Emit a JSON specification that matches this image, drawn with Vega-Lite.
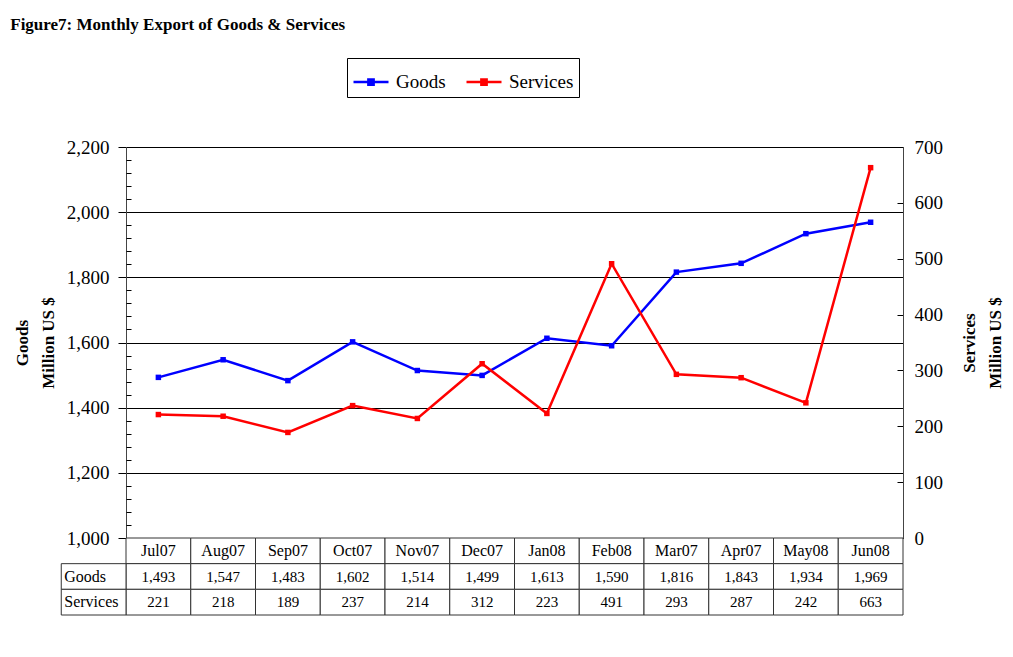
{
  "$schema": "https://vega.github.io/schema/vega-lite/v6.json",
  "background": "white",
  "padding": {"left": 10, "top": 15, "right": 5, "bottom": 5},
  "title": {"text": "Figure7: Monthly Export of Goods & Services", "anchor": "start", "font": "Liberation Serif", "fontSize": 17, "fontWeight": "bold", "color": "#000", "offset": 24, "dx": -3},
  "config": {"view": {"stroke": null}, "font": "Liberation Serif"},
  "datasets": {
    "exports": [
      {"month": "Jul07", "Goods": 1493, "Services": 221},
      {"month": "Aug07", "Goods": 1547, "Services": 218},
      {"month": "Sep07", "Goods": 1483, "Services": 189},
      {"month": "Oct07", "Goods": 1602, "Services": 237},
      {"month": "Nov07", "Goods": 1514, "Services": 214},
      {"month": "Dec07", "Goods": 1499, "Services": 312},
      {"month": "Jan08", "Goods": 1613, "Services": 223},
      {"month": "Feb08", "Goods": 1590, "Services": 491},
      {"month": "Mar07", "Goods": 1816, "Services": 293},
      {"month": "Apr07", "Goods": 1843, "Services": 287},
      {"month": "May08", "Goods": 1934, "Services": 242},
      {"month": "Jun08", "Goods": 1969, "Services": 663}
    ]
  },
  "spacing": 0,
  "bounds": "flush",
  "vconcat": [
    {
      "width": 777,
      "height": 391,
      "data": {"name": "exports"},
      "layer": [
        {
          "mark": {"type": "line", "strokeWidth": 2.5, "point": {"shape": "square", "size": 30, "filled": true}},
          "encoding": {
            "x": {"field": "month", "type": "nominal", "scale": {"domain": ["Jul07","Aug07","Sep07","Oct07","Nov07","Dec07","Jan08","Feb08","Mar07","Apr07","May08","Jun08"]}, "axis": {"labels": false, "ticks": false, "title": null, "grid": false, "domainColor": "#000"}},
            "y": {"field": "Goods", "type": "quantitative", "scale": {"domain": [1000, 2200], "nice": false},
              "axis": {"values": [1000,1200,1400,1600,1800,2000,2200], "format": ",.0f", "tickSize": 8, "tickColor": "#000", "domainColor": "#444", "labelPadding": 9, "labelFontSize": 19, "labelColor": "#000", "labelFont": "Liberation Serif", "grid": true, "gridColor": "#000", "gridWidth": 1, "title": ["Goods", "Million US $"], "titleFont": "Liberation Serif", "titleFontSize": 17, "titleFontWeight": "bold", "titleColor": "#000", "titlePadding": 9, "titleLineHeight": 26}},
            "color": {"datum": "Goods", "type": "nominal", "scale": {"domain": ["Goods", "Services"], "range": ["#0000FF", "#FF0000"]},
              "legend": {"title": null, "orient": "none", "legendX": 221, "legendY": -89, "direction": "horizontal", "strokeColor": "#000", "fillColor": "#fff", "padding": 5, "labelFontSize": 19, "labelFont": "Liberation Serif", "labelColor": "#000", "symbolType": "M-1,0H1M-0.15,-0.15H0.15V0.15H-0.15Z", "symbolSize": 1225, "symbolStrokeWidth": 2.5, "columnPadding": 15, "labelOffset": 6}}
          }
        },
        {
          "mark": {"type": "line", "strokeWidth": 2.5, "point": {"shape": "square", "size": 30, "filled": true}},
          "encoding": {
            "x": {"field": "month", "type": "nominal", "scale": {"domain": ["Jul07","Aug07","Sep07","Oct07","Nov07","Dec07","Jan08","Feb08","Mar07","Apr07","May08","Jun08"]}},
            "y": {"field": "Services", "type": "quantitative", "scale": {"domain": [0, 700], "nice": false},
              "axis": {"orient": "right", "values": [0,100,200,300,400,500,600,700], "format": "d", "tickSize": -6, "tickColor": "#000", "domainColor": "#444", "labelPadding": 17, "labelFontSize": 19, "labelColor": "#000", "labelFont": "Liberation Serif", "grid": false, "title": ["Services", "Million US $"], "titleAngle": -90, "titleBaseline": "top", "titleFont": "Liberation Serif", "titleFontSize": 17, "titleFontWeight": "bold", "titleColor": "#000", "titlePadding": -7, "titleLineHeight": 26}},
            "color": {"datum": "Services", "type": "nominal"}
          }
        },
        {
          "mark": {"type": "point", "opacity": 0},
          "encoding": {
            "x": {"field": "month", "type": "nominal", "scale": {"domain": ["Jul07","Aug07","Sep07","Oct07","Nov07","Dec07","Jan08","Feb08","Mar07","Apr07","May08","Jun08"]}},
            "y": {"field": "Goods", "type": "quantitative", "scale": {"domain": [1000, 2200], "nice": false},
              "axis": {"orient": "left", "values": [1040,1080,1120,1160,1240,1280,1320,1360,1440,1480,1520,1560,1640,1680,1720,1760,1840,1880,1920,1960,2040,2080,2120,2160], "tickSize": -5, "tickColor": "#000", "labels": false, "domain": false, "grid": false, "title": null}}
          }
        }
      ],
      "resolve": {"scale": {"y": "independent"}}
    },
    {
      "width": 777,
      "height": 77,
      "data": {"name": "exports"},
      "layer": [
        {
          "mark": {"type": "rect", "fill": "#fff", "stroke": "#333", "strokeWidth": 1},
          "encoding": {
            "x": {"field": "month", "type": "nominal", "scale": {"domain": ["label","Jul07","Aug07","Sep07","Oct07","Nov07","Dec07","Jan08","Feb08","Mar07","Apr07","May08","Jun08"], "range": [-64.75, 777], "paddingInner": 0, "paddingOuter": 0}, "axis": null},
            "y": {"datum": "header", "type": "nominal", "scale": {"domain": ["header", "Goods", "Services"], "paddingInner": 0, "paddingOuter": 0}, "axis": null}
          }
        },
        {
          "mark": {"type": "text", "fontSize": 16, "font": "Liberation Serif", "color": "#000"},
          "encoding": {
            "x": {"field": "month", "type": "nominal"},
            "y": {"datum": "header", "type": "nominal"},
            "text": {"field": "month"}
          }
        },
        {
          "transform": [{"fold": ["Goods", "Services"], "as": ["series", "value"]}],
          "layer": [
            {
              "mark": {"type": "rect", "fill": "#fff", "stroke": "#333", "strokeWidth": 1},
              "encoding": {
                "x": {"field": "month", "type": "nominal"},
                "y": {"field": "series", "type": "nominal"}
              }
            },
            {
              "mark": {"type": "text", "fontSize": 15, "font": "Liberation Serif", "color": "#000"},
              "encoding": {
                "x": {"field": "month", "type": "nominal"},
                "y": {"field": "series", "type": "nominal"},
                "text": {"field": "value", "type": "quantitative", "format": ","}
              }
            },
            {
              "transform": [{"filter": "datum.month === 'Jul07'"}],
              "layer": [
                {
                  "mark": {"type": "rect", "fill": "#fff", "stroke": "#333", "strokeWidth": 1},
                  "encoding": {
                    "x": {"datum": "label", "type": "nominal"},
                    "y": {"field": "series", "type": "nominal"}
                  }
                },
                {
                  "mark": {"type": "text", "fontSize": 16, "font": "Liberation Serif", "color": "#000", "align": "left", "dx": 3},
                  "encoding": {
                    "x": {"datum": "label", "type": "nominal", "bandPosition": 0},
                    "y": {"field": "series", "type": "nominal"},
                    "text": {"field": "series"}
                  }
                }
              ]
            }
          ]
        }
      ]
    }
  ]
}
